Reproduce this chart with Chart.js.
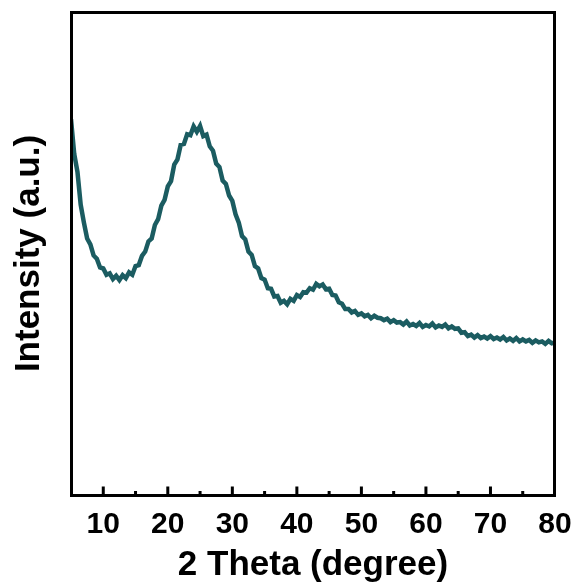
<!DOCTYPE html>
<html>
<head>
<meta charset="utf-8">
<script src="https://cdn.jsdelivr.net/npm/chart.js@4.4.1/dist/chart.umd.min.js"></script>
<style>
  html, body { margin: 0; padding: 0; background: #fff; }
  #wrap { width: 580px; height: 587px; }
</style>
</head>
<body>
<div id="wrap"><canvas id="grafico-xrd"></canvas></div>
<script>
// 2 theta (degree), 0.5 step
const theta = [
  5, 5.5, 6, 6.5, 7, 7.5, 8, 8.5, 9, 9.5,
  10, 10.5, 11, 11.5, 12, 12.5, 13, 13.5, 14, 14.5,
  15, 15.5, 16, 16.5, 17, 17.5, 18, 18.5, 19, 19.5,
  20, 20.5, 21, 21.5, 22, 22.5, 23, 23.5, 24, 24.5,
  25, 25.5, 26, 26.5, 27, 27.5, 28, 28.5, 29, 29.5,
  30, 30.5, 31, 31.5, 32, 32.5, 33, 33.5, 34, 34.5,
  35, 35.5, 36, 36.5, 37, 37.5, 38, 38.5, 39, 39.5,
  40, 40.5, 41, 41.5, 42, 42.5, 43, 43.5, 44, 44.5,
  45, 45.5, 46, 46.5, 47, 47.5, 48, 48.5, 49, 49.5,
  50, 50.5, 51, 51.5, 52, 52.5, 53, 53.5, 54, 54.5,
  55, 55.5, 56, 56.5, 57, 57.5, 58, 58.5, 59, 59.5,
  60, 60.5, 61, 61.5, 62, 62.5, 63, 63.5, 64, 64.5,
  65, 65.5, 66, 66.5, 67, 67.5, 68, 68.5, 69, 69.5,
  70, 70.5, 71, 71.5, 72, 72.5, 73, 73.5, 74, 74.5,
  75, 75.5, 76, 76.5, 77, 77.5, 78, 78.5, 79, 79.5,
  80,
];

// intensity (a.u.)
const intensity = [
  77.8, 70.6, 66.9, 60.1, 56.4, 53.1, 51.9, 49.6, 48.9, 47.1,
  46.9, 45.6, 45.9, 44.7, 45.4, 44.5, 45.5, 44.9, 46.1, 45.6,
  47.4, 47.6, 49.5, 50.4, 52.5, 53.1, 55.9, 57.1, 59.9, 61.1,
  63.9, 65.0, 68.4, 69.5, 72.5, 72.7, 74.7, 74.5, 76.3, 75.2,
  76.4, 74.3, 74.6, 72.2, 71.3, 68.6, 67.9, 65.1, 64.4, 62.0,
  60.9, 58.1, 56.4, 53.6, 52.9, 50.4, 49.7, 47.4, 46.9, 44.9,
  44.6, 42.8, 42.7, 41.1, 41.2, 39.8, 40.2, 39.5, 40.6, 40.2,
  41.4, 41.0, 42.0, 41.9, 42.8, 42.5, 43.7, 43.2, 43.6, 42.6,
  42.7, 41.4, 41.3, 39.9, 39.6, 38.5, 38.5, 37.8, 38.1, 37.3,
  37.6, 37.0, 37.3, 36.6, 37.1, 36.7, 36.6, 36.2, 36.5, 35.8,
  36.2, 35.7, 35.8, 35.3, 35.9, 35.1, 35.4, 35.0, 35.6, 34.8,
  35.2, 34.9, 35.5, 34.7, 35.1, 34.8, 35.3, 34.5, 34.9, 34.4,
  34.5, 33.6, 33.7, 32.9, 33.2, 32.6, 33.1, 32.5, 32.8, 32.4,
  32.9, 32.3, 32.6, 32.2, 32.7, 32.0, 32.4, 31.9, 32.5, 31.8,
  32.2, 31.8, 32.1, 31.5, 32.0, 31.6, 31.8, 31.3, 31.9, 31.4,
  31.6,
];

const xTickValues = [10, 20, 30, 40, 50, 60, 70, 80];
const xMinorValues = [15, 25, 35, 45, 55, 65, 75];

const colorLinea = "#1b5c61";
const fuente = "'Liberation Sans', Arial, Helvetica, sans-serif";

const marcoPlugin = {
  id: "marco",
  afterDraw: (chart) => {
    const { ctx, chartArea: a, scales } = chart;
    const left = Math.round(a.left) + 0.5;
    const top = Math.round(a.top) + 0.5;
    const right = Math.round(a.right) - 0.5;
    const bottom = Math.round(a.bottom) + 0.5;
    ctx.save();
    ctx.strokeStyle = "#000";
    ctx.lineWidth = 3;
    ctx.beginPath();
    xTickValues
      .filter((v) => v < 80)
      .forEach((v) => {
        const px = scales.x.getPixelForValue(v);
        ctx.moveTo(px, bottom);
        ctx.lineTo(px, bottom - 9);
      });
    xMinorValues.forEach((v) => {
      const px = scales.x.getPixelForValue(v);
      ctx.moveTo(px, bottom);
      ctx.lineTo(px, bottom - 4.5);
    });
    ctx.stroke();
    ctx.lineJoin = "miter";
    ctx.strokeRect(left, top, right - left, bottom - top);
    ctx.restore();
  },
};

new Chart(document.querySelector("#grafico-xrd"), {
  type: "line",
  data: {
    datasets: [
      {
        data: theta.map((t, i) => ({ x: t, y: intensity[i] })),
        borderColor: colorLinea,
        borderWidth: 4.5,
        pointRadius: 0,
        tension: 0,
        fill: false,
      },
    ],
  },
  options: {
    responsive: true,
    maintainAspectRatio: false,
    animation: false,
    layout: { padding: { top: 12, right: 25, left: 0, bottom: 0 } },
    plugins: { legend: { display: false }, tooltip: { enabled: false } },
    scales: {
      x: {
        type: "linear",
        min: 5,
        max: 80,
        afterBuildTicks: (scale) => {
          scale.ticks = xTickValues.map((v) => ({ value: v }));
        },
        afterFit: (scale) => {
          scale.height = 92;
          scale.paddingLeft = 0;
          scale.paddingRight = 0;
        },
        grid: { display: false, drawTicks: false },
        border: { display: false },
        ticks: {
          padding: 12,
          maxRotation: 0,
          autoSkip: false,
          color: "#000",
          font: { family: fuente, size: 30, weight: "bold" },
        },
        title: {
          display: true,
          text: "2 Theta (degree)",
          color: "#000",
          padding: { top: 0, bottom: 1 },
          font: { family: fuente, size: 35, weight: "bold" },
        },
      },
      y: {
        min: 0,
        max: 100,
        afterFit: (scale) => {
          scale.width = 71;
        },
        grid: { display: false, drawTicks: false },
        border: { display: false },
        ticks: { display: false },
        title: {
          display: true,
          text: "Intensity (a.u.)",
          color: "#000",
          padding: { top: 8, bottom: 0 },
          font: { family: fuente, size: 35, weight: "bold" },
        },
      },
    },
  },
  plugins: [marcoPlugin],
});
</script>
</body>
</html>
